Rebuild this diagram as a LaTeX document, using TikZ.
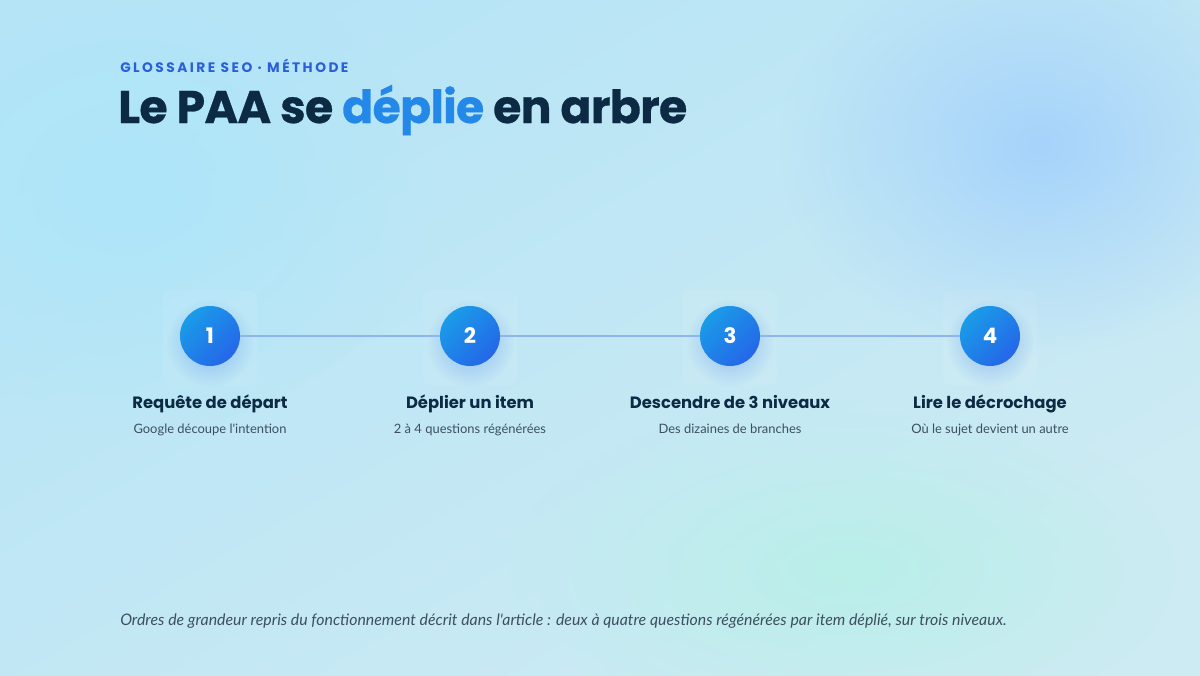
\documentclass[tikz,border=0pt]{standalone}
\usepackage{fontspec}
\usetikzlibrary{fadings}
\newfontfamily\titlefont{Poppins}
\newfontfamily\titleheavy{Poppins}[FakeBold=0.6, LetterSpace=-1.5]
\newfontfamily\kickerfont{Poppins}[LetterSpace=18]
\newfontfamily\bodyfont{Lato}
\definecolor{bgA}{HTML}{B6E4F6}
\definecolor{bgB}{HTML}{CDEBF3}
\definecolor{blobBlue}{HTML}{A6D3FB}
\definecolor{blobCyan}{HTML}{AEE6FA}
\definecolor{blobMint}{HTML}{B9EFE9}
\definecolor{ink}{HTML}{0C2A43}
\definecolor{kicker}{HTML}{2B5FD9}
\definecolor{accent}{HTML}{2388E8}
\definecolor{subink}{HTML}{3D4F60}
\definecolor{lineblue}{HTML}{8EB5EE}
\definecolor{circA}{HTML}{1A9CE8}
\definecolor{circB}{HTML}{2566E8}
\tikzfading[name=blobfade, inner color=transparent!0, outer color=transparent!100]
\tikzset{
  stepcircle/.style={circle, minimum size=45pt, inner sep=0pt, top color=circA, bottom color=circB, shading angle=45, text=white, font=\titlefont\bfseries\fontsize{16}{16}\selectfont},
  steptitle/.style={anchor=base, text=ink, font=\titlefont\bfseries\fontsize{12.3}{14}\selectfont},
  stepsub/.style={anchor=base, text=subink, font=\bodyfont\fontsize{9.7}{12}\selectfont},
  link/.style={draw=lineblue, line width=1.5pt},
  card/.style={fill=white, fill opacity=0.07, rounded corners=6pt}
}
\begin{document}
\begin{tikzpicture}[x=0.75pt, y=-0.75pt]
\useasboundingbox (0,0) rectangle (1200,675);
% background
\shade[top color=bgA, bottom color=bgB, shading angle=30] (0,0) rectangle (1200,675);
\fill[blobCyan, path fading=blobfade] (130,190) ellipse [x radius=300, y radius=240];
\fill[blobBlue, path fading=blobfade] (1040,145) ellipse [x radius=260, y radius=210];
\fill[blobMint, path fading=blobfade] (850,570) ellipse [x radius=340, y radius=170];
% header
\node[anchor=base west, inner sep=0pt, text=kicker, font=\kickerfont\bfseries\fontsize{10.3}{11}\selectfont] (kick) at (120,72) {GLOSSAIRE SEO · MÉTHODE};
\node[anchor=base west, inner sep=0pt, text=ink, font=\titleheavy\bfseries\fontsize{34.3}{36}\selectfont] (title) at (118,123) {Le PAA se \textcolor{accent}{déplie} en arbre};
% cards and soft shadows
\foreach \x in {210,470,730,990} {
  \fill[card] (\x-47,290) rectangle (\x+47,385);
  \fill[circB, opacity=0.35, path fading=blobfade] (\x,343) circle (44);
}
% steps
\node[stepcircle] (s1) at (210,336) {1};
\node[stepcircle] (s2) at (470,336) {2};
\node[stepcircle] (s3) at (730,336) {3};
\node[stepcircle] (s4) at (990,336) {4};
\draw[link] (s1) -- (s2);
\draw[link] (s2) -- (s3);
\draw[link] (s3) -- (s4);
\node[steptitle] (t1) at (210,408) {Requête de départ};
\node[steptitle] (t2) at (470,408) {Déplier un item};
\node[steptitle] (t3) at (730,408) {Descendre de 3 niveaux};
\node[steptitle] (t4) at (990,408) {Lire le décrochage};
\node[stepsub] (d1) at (210,433) {Google découpe l'intention};
\node[stepsub] (d2) at (470,433) {2 à 4 questions régénérées};
\node[stepsub] (d3) at (730,433) {Des dizaines de branches};
\node[stepsub] (d4) at (990,433) {Où le sujet devient un autre};
% footer
\node[anchor=base west, inner sep=0pt, text=subink, font=\bodyfont\itshape\fontsize{11.9}{13}\selectfont] (foot) at (120,625) {Ordres de grandeur repris du fonctionnement décrit dans l'article : deux à quatre questions régénérées par item déplié, sur trois niveaux.};
\end{tikzpicture}
\end{document}
